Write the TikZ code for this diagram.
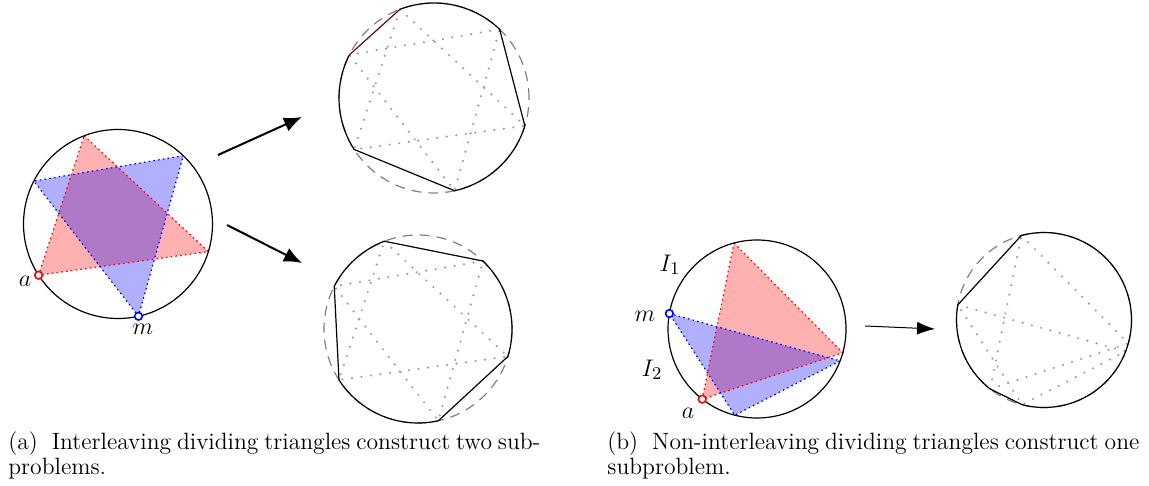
\documentclass[tikz,border=0pt]{standalone}
\usetikzlibrary{arrows.meta,calc}
\begin{document}
\begin{tikzpicture}[x=0.5pt,y=0.5pt,
  circ/.style={draw=black,line width=0.6pt},
  dashcirc/.style={draw=black!50,line width=0.6pt,dash pattern=on 5pt off 3.5pt},
  gdot/.style={draw=black!38,line width=1.2pt,line cap=round,dash pattern=on 0pt off 4.8pt},
  redfill/.style={fill=red,fill opacity=0.31},
  bluefill/.style={fill=blue,fill opacity=0.31},
  rededge/.style={draw=red,line width=0.6pt,dash pattern=on 0.8pt off 1.6pt},
  blueedge/.style={draw=blue,line width=0.6pt,dash pattern=on 0.8pt off 1.6pt},
  redmark/.style={circle,draw=red,fill=white,line width=0.8pt,inner sep=0pt,minimum size=3.8pt},
  bluemark/.style={circle,draw=blue,fill=white,line width=0.8pt,inner sep=0pt,minimum size=3.8pt},
  lbl/.style={font=\fontsize{13}{15}\selectfont,inner sep=0pt},
  bigarrow/.style={line width=1pt,-{Latex[length=9pt,width=7.5pt]}},
  smallarrow/.style={line width=0.5pt,-{Latex[length=9pt,width=6.5pt]}},
  captext/.style={anchor=north west,inner sep=0pt,align=left,font=\fontsize{11.8}{12.5}\selectfont}
]
\useasboundingbox (0,0) rectangle (1149,486);

% ---------- picture 1 ----------
\coordinate (c1) at (118,262);
\def\ra{47.25pt}
\coordinate (r1) at ($(c1)+(111:\ra)$);
\coordinate (r2) at ($(c1)+(343:\ra)$);
\coordinate (r3) at ($(c1)+(212.8:\ra)$);
\coordinate (b1) at ($(c1)+(46.3:\ra)$);
\coordinate (b2) at ($(c1)+(153:\ra)$);
\coordinate (b3) at ($(c1)+(282.5:\ra)$);
\fill[redfill] (r1)--(r2)--(r3)--cycle;
\fill[bluefill] (b1)--(b2)--(b3)--cycle;
\draw[rededge] (r1)--(r2)--(r3)--cycle;
\draw[blueedge] (b1)--(b2)--(b3)--cycle;
\draw[circ] (c1) circle[radius=\ra];
\node[redmark] (ma1) at (r3) {};
\node[bluemark] (mm1) at (b3) {};
\node[lbl] (la1) at (25,205) {$a$};
\node[lbl] (lm1) at (143,157) {$m$};

% ---------- picture 2 ----------
\coordinate (c2) at (434,388);
\def\rb{47.5pt}
\coordinate (p2r1) at ($(c2)+(111:\rb)$);
\coordinate (p2r2) at ($(c2)+(343:\rb)$);
\coordinate (p2r3) at ($(c2)+(212.8:\rb)$);
\coordinate (p2b1) at ($(c2)+(46.3:\rb)$);
\coordinate (p2b2) at ($(c2)+(153:\rb)$);
\coordinate (p2b3) at ($(c2)+(282.5:\rb)$);
\draw[dashcirc] (c2) circle[radius=\rb];
\draw[gdot] (p2r1)--(p2r2)--(p2r3)--cycle;
\draw[gdot] (p2b1)--(p2b2)--(p2b3)--cycle;
\draw[circ] (p2r1) arc[start angle=111,end angle=46.3,radius=\rb] -- (p2r2)
  arc[start angle=343,end angle=282.5,radius=\rb] -- (p2r3)
  arc[start angle=212.8,end angle=153,radius=\rb];
\draw[line width=0.6pt,draw={rgb,255:red,95;green,15;blue,15}] (p2b2) -- (p2r1);

% ---------- picture 3 ----------
\coordinate (c3) at (418,157);
\def\rc{47pt}
\coordinate (p3r1) at ($(c3)+(111:\rc)$);
\coordinate (p3r2) at ($(c3)+(343:\rc)$);
\coordinate (p3r3) at ($(c3)+(212.8:\rc)$);
\coordinate (p3b1) at ($(c3)+(46.3:\rc)$);
\coordinate (p3b2) at ($(c3)+(153:\rc)$);
\coordinate (p3b3) at ($(c3)+(282.5:\rc)$);
\draw[dashcirc] (c3) circle[radius=\rc];
\draw[gdot] (p3r1)--(p3r2)--(p3r3)--cycle;
\draw[gdot] (p3b1)--(p3b2)--(p3b3)--cycle;
\draw[circ] (p3b1) arc[start angle=46.3,end angle=-17,radius=\rc] -- (p3b3)
  arc[start angle=282.5,end angle=212.8,radius=\rc] -- (p3b2)
  arc[start angle=153,end angle=111,radius=\rc] -- cycle;

% ---------- arrows (a) ----------
\coordinate (a1s) at (218,331);
\coordinate (a1e) at (302,369);
\coordinate (a2s) at (227,261);
\coordinate (a2e) at (302,223);
\draw[bigarrow] (a1s) -- (a1e);
\draw[bigarrow] (a2s) -- (a2e);

% ---------- picture 4 ----------
\coordinate (c4) at (757,157);
\def\rd{44.5pt}
\coordinate (q1) at ($(c4)+(105:\rd)$);
\coordinate (q2) at ($(c4)+(344.5:\rd)$);
\coordinate (q3) at ($(c4)+(232:\rd)$);
\coordinate (s1) at ($(c4)+(170:\rd)$);
\coordinate (s2) at ($(c4)+(339:\rd)$);
\coordinate (s3) at ($(c4)+(255.5:\rd)$);
\fill[redfill] (q1)--(q2)--(q3)--cycle;
\fill[bluefill] (s1)--(s2)--(s3)--cycle;
\draw[rededge] (q1)--(q2)--(q3)--cycle;
\draw[blueedge] (s1)--(s2)--(s3)--cycle;
\draw[circ] (c4) circle[radius=\rd];
\node[redmark] (ma4) at (q3) {};
\node[bluemark] (mm4) at (s1) {};
\node[lbl] (li1) at (670,221) {$I_1$};
\node[lbl] (lm4) at (645,170) {$m$};
\node[lbl] (li2) at (652,116) {$I_2$};
\node[lbl] (la4) at (688,73) {$a$};

% ---------- arrow (b) ----------
\coordinate (a3s) at (865,160);
\coordinate (a3e) at (935,157);
\draw[smallarrow] (a3s) -- (a3e);

% ---------- picture 5 ----------
\coordinate (c5) at (1044,166);
\def\re{43.75pt}
\coordinate (t1) at ($(c5)+(105:\re)$);
\coordinate (t2) at ($(c5)+(344.5:\re)$);
\coordinate (t3) at ($(c5)+(232:\re)$);
\coordinate (u1) at ($(c5)+(170:\re)$);
\coordinate (u2) at ($(c5)+(339:\re)$);
\coordinate (u3) at ($(c5)+(255.5:\re)$);
\draw[dashcirc] (c5) circle[radius=\re];
\draw[gdot] (t1)--(t2)--(t3)--cycle;
\draw[gdot] (u1)--(u2)--(u3)--cycle;
\draw[circ] (t1) -- (u1) arc[start angle=170,end angle=232,radius=\re] -- (u3)
  arc[start angle=255.5,end angle=339,radius=\re] -- (t2)
  arc[start angle=344.5,end angle=465,radius=\re] -- cycle;

% ---------- captions ----------
\node[captext] (capa) at (8,55) {\makebox[266pt][s]{(a)\hspace{4pt} Interleaving dividing triangles construct two sub-}\\problems.};
\node[captext] (capb) at (607,55) {\makebox[266pt][s]{(b)\hspace{4pt} Non-interleaving dividing triangles construct one}\\subproblem.};
\end{tikzpicture}
\end{document}
